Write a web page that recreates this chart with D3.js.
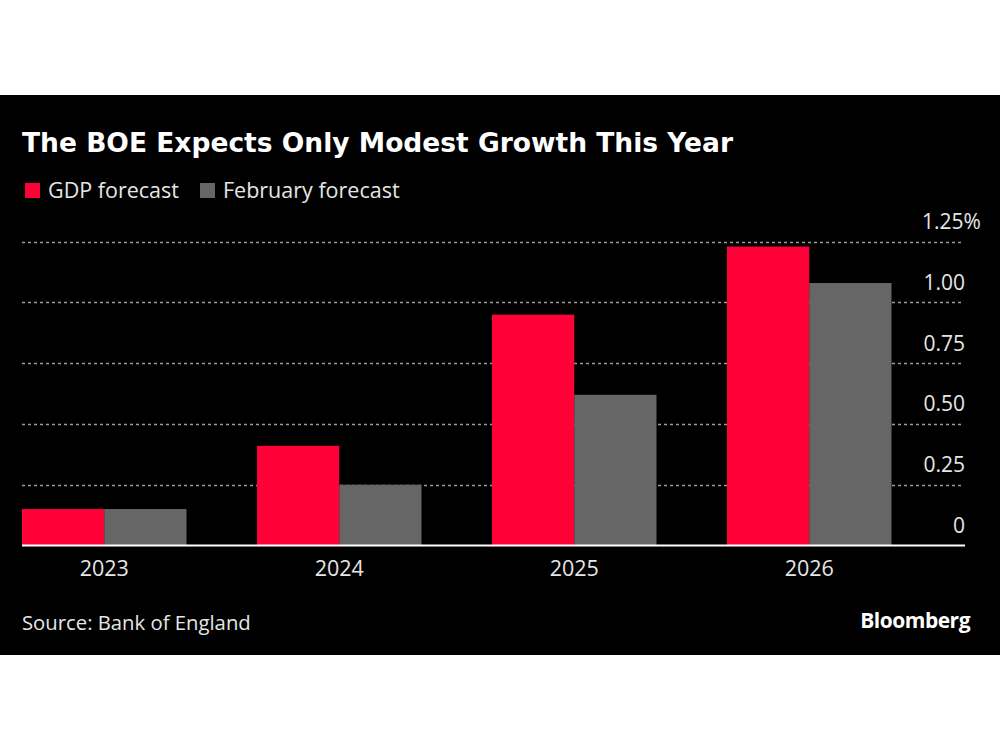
<!DOCTYPE html>
<html><head><meta charset="utf-8">
<script src="https://cdn.jsdelivr.net/npm/d3@7"></script>
<style>
html,body{margin:0;padding:0;background:#fff;}
svg{display:block;}
</style></head>
<body>
<script>
const years = ["2023","2024","2025","2026"];
const seriesNames = ["GDP forecast","February forecast"];
const gdpForecast = [0.15, 0.41, 0.95, 1.23];
const februaryForecast = [0.15, 0.25, 0.62, 1.08];
const yTicks = [0, 0.25, 0.5, 0.75, 1.0, 1.25];
const yTickLabels = ["0","0.25","0.50","0.75","1.00","1.25%"];
const colors = ["#ff0037", "#666666"];

const W = 1000, H = 750;
const svg = d3.select("body").append("svg").attr("width", W).attr("height", H);
const font = "'Open Sans', 'Noto Sans', sans-serif";

svg.append("rect").attr("x",0).attr("y",95).attr("width",W).attr("height",560).attr("fill","#000");

const title = svg.append("text").attr("x",22).attr("y",152)
  .attr("fill","#fff").attr("font-family","'DejaVu Sans', sans-serif").attr("font-weight",700)
  .attr("font-size",26).text("The BOE Expects Only Modest Growth This Year");
const tw = title.node().getComputedTextLength();
if (Math.abs(tw - 711) > 4) title.attr("textLength",711).attr("lengthAdjust","spacingAndGlyphs");

// legend
const legX = [25, 200];
seriesNames.forEach((n,i)=>{
  svg.append("rect").attr("x",legX[i]).attr("y",183).attr("width",15).attr("height",15).attr("fill",colors[i]);
  svg.append("text").attr("x",legX[i]+23).attr("y",198).attr("fill","#e6e6e6")
    .attr("font-family",font).attr("font-size",21.5).text(n);
});

const plotLeft = 22, plotRight = 965;
const y = d3.scaleLinear().domain([0,1.25]).range([545.5, 241.7]);
const x0 = d3.scaleBand().domain(years).range([22, 891.5]).paddingInner(0.3).paddingOuter(0);
const x1 = d3.scaleBand().domain(seriesNames).range([0, x0.bandwidth()]).padding(0);

// grid
const grid = svg.append("g");
grid.selectAll("line").data(yTicks.filter(d=>d>0)).join("line")
  .attr("x1",plotLeft).attr("x2",plotRight-2)
  .attr("y1",d=>Math.round(y(d))+0.5).attr("y2",d=>Math.round(y(d))+0.5)
  .attr("stroke","#9a9a9a").attr("stroke-width",1.3).attr("stroke-dasharray","3,3");

// bars
const data = years.map((yr,i)=>({year:yr, vals:[gdpForecast[i], februaryForecast[i]]}));
const g = svg.append("g");
g.selectAll("g").data(data).join("g")
  .attr("transform",d=>`translate(${x0(d.year)},0)`)
  .selectAll("rect").data(d=>d.vals.map((v,i)=>({name:seriesNames[i], v, i})))
  .join("rect")
  .attr("x",d=>x1(d.name)).attr("width",x1.bandwidth())
  .attr("y",d=>y(d.v)).attr("height",d=>y(0)-y(d.v))
  .attr("fill",d=>colors[d.i]);

// baseline
svg.append("line").attr("x1",plotLeft).attr("x2",plotRight).attr("y1",y(0)).attr("y2",y(0))
  .attr("stroke","#fff").attr("stroke-width",2);

// y axis labels
const yAxis = d3.axisRight(y).tickValues(yTicks).tickSize(0)
  .tickFormat((d)=>yTickLabels[yTicks.indexOf(d)]);
const ya = svg.append("g").attr("transform",`translate(${plotRight},0)`).call(yAxis);
ya.select(".domain").remove();
ya.selectAll("text").attr("fill","#e6e6e6").attr("font-family",font).attr("font-size",21)
  .attr("text-anchor","end").attr("x",0).attr("dy",-13).attr("y",0);
ya.selectAll("text").filter(d=>d===1.25).attr("text-anchor","start").attr("x",-43);

// x axis
const xAxis = d3.axisBottom(x0).tickSize(0);
const xa = svg.append("g").attr("transform",`translate(0,${y(0)})`).call(xAxis);
xa.select(".domain").remove();
xa.selectAll("text").attr("fill","#e6e6e6").attr("font-family",font).attr("font-size",21.5).attr("dy",0).attr("y",30);

// footer
svg.append("text").attr("x",22).attr("y",630).attr("fill","#e6e6e6")
  .attr("font-family",font).attr("font-size",20.3).text("Source: Bank of England");
svg.append("text").attr("x",970).attr("y",628).attr("text-anchor","end").attr("fill","#fff")
  .attr("font-family","'Open Sans', sans-serif").attr("font-weight",700).attr("font-size",21)
  .attr("letter-spacing",-0.5).text("Bloomberg");
</script>
</body></html>
